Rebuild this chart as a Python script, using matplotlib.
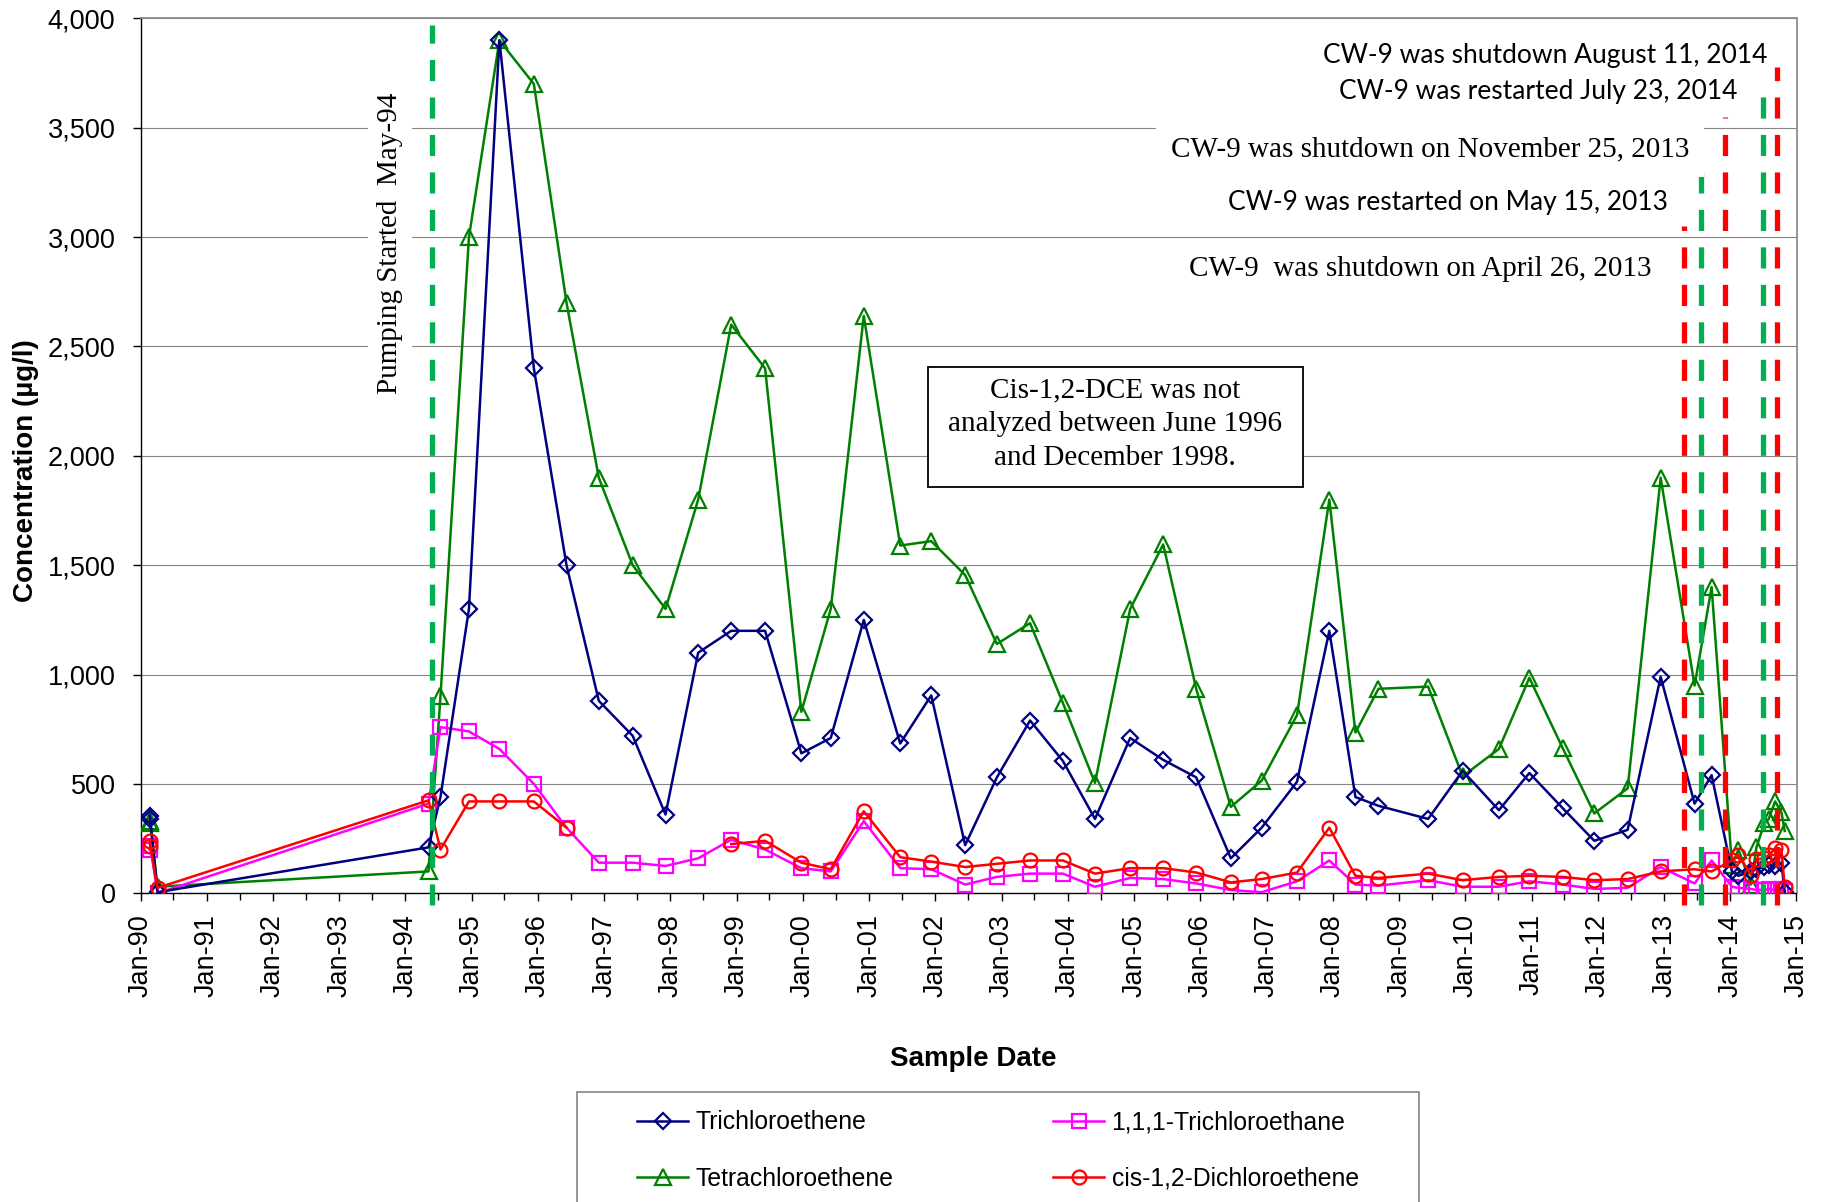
import matplotlib
matplotlib.use('Agg')
import matplotlib.pyplot as plt
import matplotlib.dates as mdates
from matplotlib.ticker import FuncFormatter
from matplotlib.patches import Rectangle
import numpy as np
import pandas as pd

# sample dates and concentrations (ug/l)
dates = ['1990-02-20', '1990-02-24', '1990-04-05', '1994-05-08', '1994-07-13',
         '1994-12-17', '1995-06-03', '1995-12-10', '1996-06-07', '1996-12-02',
         '1997-06-07', '1997-12-05', '1998-06-03', '1998-12-02', '1999-06-07',
         '1999-12-24', '2000-06-03', '2000-12-02', '2001-06-21', '2001-12-09',
         '2002-06-14', '2002-12-06', '2003-06-07', '2003-12-05', '2004-05-30',
         '2004-12-10', '2005-06-10', '2005-12-09', '2006-06-18', '2006-12-05',
         '2007-06-18', '2007-12-13', '2008-05-05', '2008-09-09', '2009-06-10',
         '2009-12-17', '2010-07-05', '2010-12-20', '2011-06-21', '2011-12-13',
         '2012-06-14', '2012-12-13', '2013-06-18', '2013-09-20',
         '2014-01-10', '2014-02-15', '2014-04-25', '2014-05-25', '2014-07-08',
         '2014-08-01', '2014-09-05', '2014-10-10', '2014-10-28']

tce = [355, 340, 5, 210, 440, 1300, 3900, 2400, 1500, 880, 720, 360, 1100, 1200, 1200,
       640, 710, 1250, 685, 905, 220, 530, 790, 605, 340, 710, 610, 530, 160, 300,
       510, 1200, 440, 400, 340, 560, 380, 550, 390, 240, 290, 990, 410, 540,
       100, 80, 100, 110, 120, 130, 125, 140, 5]
pce = [330, 320, 30, 100, 900, 3000, 3900, 3700, 2700, 1900, 1500, 1300, 1800, 2600, 2400,
       830, 1300, 2640, 1590, 1610, 1455, 1140, 1235, 870, 505, 1300, 1595, 935, 395, 515,
       815, 1800, 735, 935, 945, 535, 660, 985, 665, 365, 480, 1900, 950, 1400,
       130, 200, 40, 210, 320, 340, 420, 370, 285]
tca = [200, 215, 0, 410, 760, 740, 660, 500, 300, 140, 140, 125, 160, 245, 200,
       115, 100, 330, 115, 110, 40, 75, 90, 90, 30, 70, 65, 45, 15, 5,
       55, 150, 40, 35, 60, 30, 30, 55, 40, 20, 25, 120, 45, 150,
       30, 25, 20, 15, 15, 20, 15, 20, 10]
# cis-1,2-DCE was not analyzed from June 1996 to December 1998
dce = [240, 215, 25, 425, 200, 420, 420, 420, 300, None, None, None, None, 225, 240,
       140, 110, 375, 165, 145, 120, 135, 150, 150, 90, 115, 115, 95, 50, 65,
       95, 300, 80, 70, 90, 60, 75, 80, 75, 60, 65, 100, 110, 100,
       150, 175, 85, 155, 160, 175, 205, 200, 30]

# well events: date (position on the chart), colour, top of line
event_dates = ['1994-05-25', '2013-04-18', '2013-07-23', '2013-12-05', '2014-06-29', '2014-09-16']
event_colors = ['#00B050', '#FF0000', '#00B050', '#FF0000', '#00B050', '#FF0000']
event_tops = [3970, 3050, 3350, 3550, 3680, 3780]

W, H = 1825, 1202
def fx(x): return x / W
def fy(y): return 1 - y / H

x = pd.to_datetime(dates)
dce = np.array([np.nan if v is None else v for v in dce], dtype=float)

fig = plt.figure(figsize=(W / 100, H / 100), dpi=100)
ax = fig.add_axes([fx(140.5), fy(893.3), fx(1796.5) - fx(140.5), fy(18.4) - fy(893.3)])

mk = dict(markerfacecolor='none', markeredgewidth=1.6)
l1, = ax.plot(x, tce, color='#000080', lw=1.8, marker='D', ms=8.3, label='Trichloroethene', zorder=5, **mk)
l2, = ax.plot(x, pce, color='#008000', lw=1.8, marker='^', ms=11, label='Tetrachloroethene', zorder=4, **mk)
l3, = ax.plot(x, tca, color='#FF00FF', lw=1.8, marker='s', ms=9.5, label='1,1,1-Trichloroethane', zorder=4, **mk)
l4, = ax.plot(x, dce, color='#FF0000', lw=1.8, marker='o', ms=10, label='cis-1,2-Dichloroethene', zorder=5, **mk)

for d, c, top in zip(pd.to_datetime(event_dates), event_colors, event_tops):
    ax.plot([d, d], [-55, top], color=c, lw=3.8, ls=(0, (4.0, 3.1)), clip_on=False, zorder=7)

ax.set_xlim(pd.Timestamp('1990-01-01'), pd.Timestamp('2015-01-01'))
ax.set_ylim(0, 4000)
ax.set_yticks(np.arange(0, 4001, 500))
ax.yaxis.set_major_formatter(FuncFormatter(lambda v, p: f'{v:,.0f}'))
ax.xaxis.set_major_locator(mdates.YearLocator())
ax.xaxis.set_minor_locator(mdates.MonthLocator(bymonth=7))
ax.xaxis.set_major_formatter(mdates.DateFormatter('%b-%y'))
ax.grid(axis='y', color='#868686', lw=0.8, zorder=0)
ax.set_axisbelow(True)

ax.tick_params(axis='y', labelsize=19.5, length=6, width=1, pad=12, direction='out')
ax.tick_params(axis='x', which='major', labelsize=19.5, length=6, width=1, pad=9, rotation=90)
ax.tick_params(axis='x', which='minor', length=5, width=1)
for lab in ax.get_xticklabels() + ax.get_yticklabels():
    lab.set_fontfamily('Liberation Sans')
for s in ['left', 'bottom']:
    ax.spines[s].set_color('black')
    ax.spines[s].set_linewidth(1.0)
for s in ['top', 'right']:
    ax.spines[s].set_color('#868686')
    ax.spines[s].set_linewidth(1.2)

fig.text(fx(973), fy(1059), 'Sample Date', ha='center', va='center', fontsize=20,
         fontweight='bold', family='Liberation Sans')
fig.text(fx(25.6), fy(471), 'Concentration (µg/l)', ha='center', va='center', rotation=90,
         fontsize=20, fontweight='bold', family='Liberation Sans')

serif = 'Liberation Serif'
white = dict(boxstyle='square,pad=0.3', fc='white', ec='none')
fig.text(fx(390), fy(243), 'Pumping Started  May-94', rotation=90, ha='center', va='center',
         fontsize=21, family=serif, bbox=white, zorder=3)

# note box about cis-1,2-DCE
fig.patches.append(Rectangle((fx(927.6), fy(486.5)), fx(1302.5) - fx(927.6), fy(366.6) - fy(486.5),
                             transform=fig.transFigure, fc='white', ec='black', lw=1.3, zorder=2))
fig.text(fx(1115), fy(424), 'Cis-1,2-DCE was not\nanalyzed between June 1996\nand December 1998.',
         ha='center', va='center', fontsize=21, family=serif, linespacing=1.38, zorder=3)

sans = 'Lato'
fig.text(fx(1545), fy(55), 'CW-9 was shutdown August 11, 2014', ha='center', va='center',
         fontsize=19, family=sans)
fig.text(fx(1538), fy(92), 'CW-9 was restarted July 23, 2014', ha='center', va='center',
         fontsize=19, family=sans)
fig.text(fx(1430), fy(149), 'CW-9 was shutdown on November 25, 2013', ha='center', va='center',
         fontsize=21, family=serif, bbox=dict(boxstyle='square,pad=0.5', fc='white', ec='none'), zorder=3)
fig.text(fx(1448), fy(202.5), 'CW-9 was restarted on May 15, 2013', ha='center', va='center',
         fontsize=19, family=sans)
fig.text(fx(1420), fy(269), 'CW-9  was shutdown on April 26, 2013', ha='center', va='center',
         fontsize=21, family=serif)

# legend frame runs off the bottom of the picture
fig.patches.append(Rectangle((fx(577), fy(1215)), fx(1419) - fx(577), fy(1092) - fy(1215),
                             transform=fig.transFigure, fc='white', ec='#868686', lw=1.2))
fig.legend([l1, l2, l3, l4], [l1.get_label(), l2.get_label(), l3.get_label(), l4.get_label()],
           ncol=2, loc='upper left', bbox_to_anchor=(fx(625), fy(1098)), frameon=False,
           borderpad=0, handlelength=2.06, handletextpad=0.3, columnspacing=6.45,
           labelspacing=1.3, prop={'family': 'Liberation Sans', 'size': 17.8})

plt.savefig('out.png', dpi=100)
